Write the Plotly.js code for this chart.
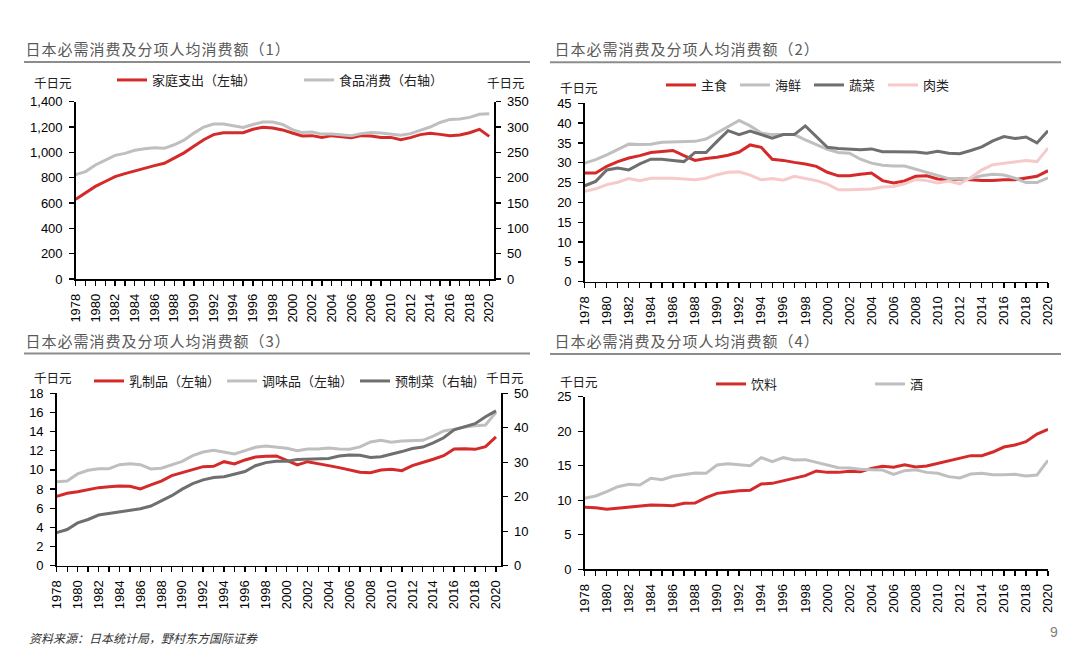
<!DOCTYPE html>
<html><head><meta charset="utf-8">
<script src="https://cdn.plot.ly/plotly-3.0.1.min.js"></script>
<style>
html,body{margin:0;padding:0;background:#fff;} #chart{width:1080px;height:650px;}
g.annotation[data-index="0"] text, g.annotation[data-index="1"] text,
g.annotation[data-index="2"] text, g.annotation[data-index="3"] text {letter-spacing:1px;}
</style>
</head><body><div id="chart"></div>
<script>
const years = [1978,1979,1980,1981,1982,1983,1984,1985,1986,1987,1988,1989,1990,1991,1992,1993,1994,1995,1996,1997,1998,1999,2000,2001,2002,2003,2004,2005,2006,2007,2008,2009,2010,2011,2012,2013,2014,2015,2016,2017,2018,2019,2020];

// Panel 1
const householdSpend = [630,680,731,770,808,832,855,876,895,914,954,996,1049,1100,1140,1155,1155,1155,1182,1198,1193,1177,1153,1129,1132,1118,1132,1126,1116,1132,1129,1118,1118,1100,1116,1140,1150,1142,1132,1137,1155,1182,1126];
const foodSpend = [206,212,225,235,244,248,254,257,259,258,265,274,288,300,306,306,303,299,305,310,310,305,295,289,290,286,286,285,283,287,289,288,286,284,287,293,300,309,315,316,319,325,326];

// Panel 2
const staple = [27.4,27.4,29.1,30.3,31.2,31.8,32.6,32.9,33.1,31.8,30.6,31.1,31.4,31.9,32.7,34.5,33.9,30.9,30.6,30.1,29.7,29.1,27.6,26.7,26.7,27.1,27.4,25.5,24.9,25.4,26.6,26.7,25.9,25.7,25.9,25.7,25.5,25.5,25.7,25.7,26.1,26.6,28.0];
const seafood = [29.9,30.8,32.0,33.3,34.7,34.6,34.7,35.2,35.3,35.4,35.4,36.0,37.6,39.2,40.7,39.3,37.5,37.1,37.1,37.1,35.8,34.5,33.4,32.6,32.4,30.9,29.9,29.4,29.2,29.2,28.4,27.6,26.7,26.0,25.9,26.1,26.7,27.1,26.9,26.1,25.0,25.0,26.2];
const vegetables = [24.2,25.3,28.2,28.7,28.2,29.7,30.9,30.9,30.6,30.3,32.6,32.6,35.4,38.1,37.1,38.0,37.1,36.2,37.1,37.1,39.3,36.5,33.9,33.6,33.4,33.3,33.5,32.8,32.8,32.8,32.7,32.4,32.9,32.4,32.3,33.1,34.0,35.5,36.6,36.1,36.5,35.0,38.1];
const meat = [22.8,23.4,24.5,25.1,26.0,25.5,26.1,26.1,26.1,25.9,25.7,26.1,27.0,27.6,27.7,26.9,25.7,26.0,25.6,26.6,26.1,25.5,24.6,23.2,23.2,23.3,23.4,23.9,24.0,24.7,25.8,25.5,24.9,25.4,24.7,26.3,28.2,29.5,29.9,30.3,30.6,30.3,33.7];

// Panel 3
const dairy = [7.24,7.56,7.73,7.94,8.15,8.25,8.32,8.29,8.01,8.43,8.84,9.40,9.75,10.03,10.34,10.38,10.86,10.62,11.04,11.35,11.42,11.46,11.00,10.52,10.86,10.69,10.45,10.24,9.96,9.75,9.71,9.99,10.06,9.92,10.45,10.76,11.11,11.49,12.19,12.22,12.15,12.43,13.44];
const seasoning = [8.77,8.84,9.58,9.96,10.13,10.13,10.55,10.65,10.55,10.10,10.17,10.52,10.90,11.49,11.87,12.05,11.87,11.66,12.01,12.36,12.50,12.40,12.26,12.01,12.19,12.19,12.29,12.19,12.15,12.40,12.92,13.09,12.88,13.02,13.02,13.09,13.54,14.07,14.24,14.48,14.62,14.69,16.02];
const prepared = [9.6,10.5,12.4,13.4,14.7,15.1,15.5,16.0,16.5,17.3,18.8,20.3,22.2,23.8,24.9,25.6,25.8,26.6,27.3,29.0,29.9,30.3,30.3,30.8,30.9,31.1,31.1,31.8,32.1,32.0,31.4,31.6,32.3,33.1,34.0,34.4,35.6,37.1,39.4,40.2,41.2,43.2,44.9];

// Panel 4
const drinks = [8.98,8.93,8.69,8.83,9.03,9.17,9.31,9.27,9.22,9.56,9.60,10.38,11.00,11.20,11.39,11.44,12.36,12.45,12.84,13.18,13.56,14.24,14.04,14.04,14.19,14.14,14.62,14.91,14.77,15.15,14.82,14.96,15.35,15.78,16.12,16.46,16.46,16.99,17.71,18.00,18.49,19.59,20.27];
const alcohol = [10.28,10.62,11.25,11.97,12.31,12.21,13.18,12.98,13.47,13.66,13.95,13.90,15.11,15.30,15.20,15.01,16.17,15.59,16.17,15.83,15.88,15.49,15.11,14.72,14.67,14.48,14.43,14.38,13.76,14.29,14.43,14.04,13.90,13.42,13.22,13.80,13.90,13.71,13.71,13.76,13.51,13.66,15.78];

const panelTitles = ['日本必需消费及分项人均消费额（1）','日本必需消费及分项人均消费额（2）','日本必需消费及分项人均消费额（3）','日本必需消费及分项人均消费额（4）'];
const unitLabel = '千日元';
const sourceText = '资料来源：日本统计局，野村东方国际证券';

const W = 1080, H = 650;
const fx = p => p / W;
const fy = p => 1 - p / H;

const RED = '#D42A2A', LGRAY = '#BFBFBF', DGRAY = '#6F6F6F', PINK = '#F6CACA';
const FONT = 'Liberation Sans, Arial, sans-serif';
const CJK = 'Noto Sans CJK SC, sans-serif';

function line(name, y, color, xaxis, yaxis, legend) {
  return {x: years, y: y, name: name, type: 'scatter', mode: 'lines', xaxis: xaxis, yaxis: yaxis, legend: legend,
    line: {color: color, width: 3}, hoverinfo: 'skip'};
}

const data = [
  line('家庭支出（左轴）', householdSpend, RED, 'x', 'y', 'legend'),
  line('食品消费（右轴）', foodSpend, LGRAY, 'x', 'y2', 'legend'),
  line('主食', staple, RED, 'x2', 'y3', 'legend2'),
  line('海鲜', seafood, LGRAY, 'x2', 'y3', 'legend2'),
  line('蔬菜', vegetables, DGRAY, 'x2', 'y3', 'legend2'),
  line('肉类', meat, PINK, 'x2', 'y3', 'legend2'),
  line('乳制品（左轴）', dairy, RED, 'x3', 'y4', 'legend3'),
  line('调味品（左轴）', seasoning, LGRAY, 'x3', 'y4', 'legend3'),
  line('预制菜（右轴)', prepared, DGRAY, 'x3', 'y5', 'legend3'),
  line('饮料', drinks, RED, 'x4', 'y6', 'legend4'),
  line('酒', alcohol, LGRAY, 'x4', 'y6', 'legend4')
];

const axBase = {showgrid: false, zeroline: false, showline: true, linecolor: '#000', linewidth: 1.5,
  ticks: 'outside', ticklen: 5, tickcolor: '#000', tickwidth: 1.3,
  tickfont: {family: FONT, size: 13, color: '#000'}, fixedrange: true};

function xa(x0, x1, anchor, rmax) {
  return Object.assign({}, axBase, {domain: [fx(x0), fx(x1)], anchor: anchor, range: [1978, rmax],
    tickmode: 'linear', tick0: 1978, dtick: 2, tickangle: -90, ticklabelstandoff: 3,
    minor: {tick0: 1978, dtick: 1, ticks: 'outside', ticklen: 5, tickcolor: '#000', tickwidth: 1.3}});
}
function ya(top, bottom, anchor, rmax, dt, extra) {
  return Object.assign({}, axBase, {domain: [fy(bottom), fy(top)], anchor: anchor, range: [0, rmax],
    tickmode: 'linear', tick0: 0, dtick: dt, tickformat: ',', ticklabelstandoff: 4}, extra || {});
}

const legendBase = {orientation: 'h', xanchor: 'left', yanchor: 'middle', bgcolor: 'rgba(0,0,0,0)',
  font: {family: CJK, size: 13, color: '#222'}, itemwidth: 30, tracegroupgap: 0};

const layout = {
  width: W, height: H, margin: {l: 0, r: 0, t: 0, b: 0, pad: 0, autoexpand: false},
  paper_bgcolor: '#fff', plot_bgcolor: 'rgba(0,0,0,0)',
  showlegend: true,
  xaxis: xa(75.7, 494, 'y', 2020.48),
  yaxis: ya(101.7, 279, 'x', 1400, 200),
  yaxis2: ya(101.7, 279, 'x', 350, 50, {overlaying: 'y', side: 'right'}),
  xaxis2: xa(584.7, 1048, 'y3', 2020),
  yaxis3: ya(103.3, 281.7, 'x2', 45, 5),
  xaxis3: xa(56.7, 501, 'y4', 2020.48),
  yaxis4: ya(393.3, 565.7, 'x3', 18, 2),
  yaxis5: ya(393.3, 565.7, 'x3', 50, 10, {overlaying: 'y4', side: 'right'}),
  xaxis4: xa(584.7, 1048, 'y6', 2020),
  yaxis6: ya(396.7, 569.3, 'x4', 25, 5),
  legend: Object.assign({}, legendBase, {x: fx(112), y: fy(80), entrywidth: 142}),
  legend2: Object.assign({}, legendBase, {x: fx(661), y: fy(85), entrywidth: 29}),
  legend3: Object.assign({}, legendBase, {x: fx(89), y: fy(381), entrywidth: 88}),
  legend4: Object.assign({}, legendBase, {x: fx(711), y: fy(384), entrywidth: 114}),
  shapes: [
    {type: 'line', xref: 'paper', yref: 'paper', x0: fx(24), x1: fx(530), y0: fy(62), y1: fy(62), line: {color: '#8C8C8C', width: 2}},
    {type: 'line', xref: 'paper', yref: 'paper', x0: fx(550), x1: fx(1061), y0: fy(62.3), y1: fy(62.3), line: {color: '#8C8C8C', width: 2}},
    {type: 'line', xref: 'paper', yref: 'paper', x0: fx(24), x1: fx(530), y0: fy(353.5), y1: fy(353.5), line: {color: '#8C8C8C', width: 2}},
    {type: 'line', xref: 'paper', yref: 'paper', x0: fx(550), x1: fx(1061), y0: fy(354), y1: fy(354), line: {color: '#8C8C8C', width: 2}}
  ],
  annotations: []
};

const titlePos = [[32, 48], [561, 48], [32, 340], [561, 340]];
panelTitles.forEach((t, i) => layout.annotations.push({text: t, xref: 'paper', yref: 'paper', x: fx(titlePos[i][0]), y: fy(titlePos[i][1]),
  xanchor: 'left', yanchor: 'middle', showarrow: false, font: {family: CJK, size: 15, color: '#595959'}}));

const unitPos = [[32, 83], [485, 82], [558, 87], [32, 377], [484, 377], [558, 381]];
unitPos.forEach(p => layout.annotations.push({text: unitLabel, xref: 'paper', yref: 'paper', x: fx(p[0]), y: fy(p[1]),
  xanchor: 'left', yanchor: 'middle', showarrow: false, font: {family: CJK, size: 12.5, color: '#222'}}));

layout.annotations.push({text: '<i>' + sourceText + '</i>', xref: 'paper', yref: 'paper', x: fx(27), y: fy(637),
  xanchor: 'left', yanchor: 'middle', showarrow: false, font: {family: CJK, size: 12, color: '#333'}});
layout.annotations.push({text: '9', xref: 'paper', yref: 'paper', x: fx(1060), y: fy(632),
  xanchor: 'right', yanchor: 'middle', showarrow: false, font: {family: FONT, size: 14, color: '#7F7F7F'}});

Plotly.newPlot('chart', data, layout, {staticPlot: true, displayModeBar: false});
</script>
</body></html>
